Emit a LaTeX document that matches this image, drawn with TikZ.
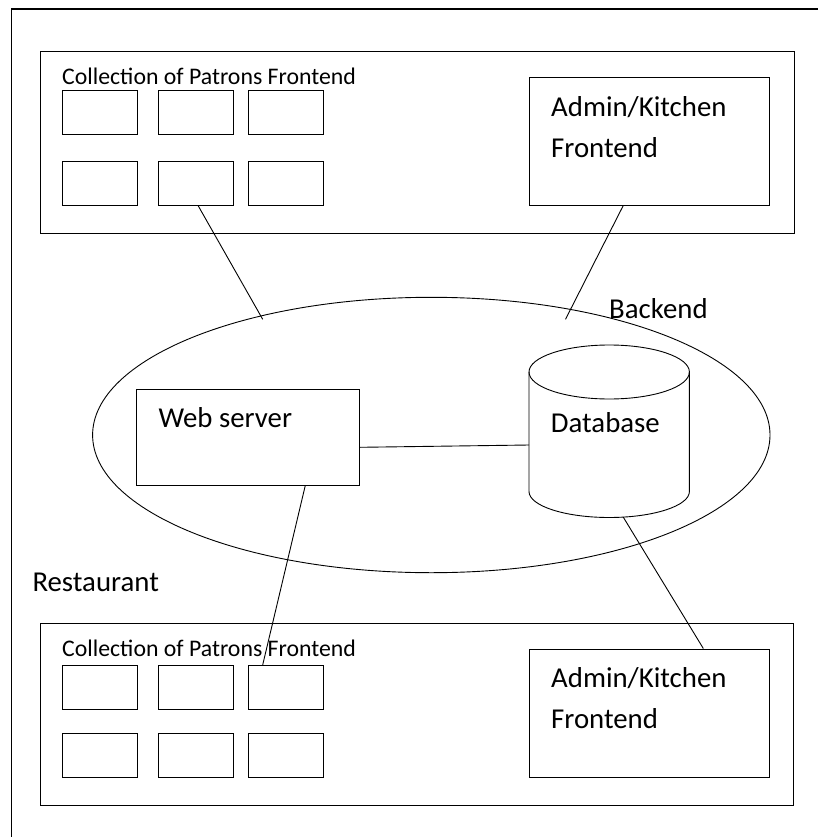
\documentclass[tikz,border=0pt]{standalone}
\usepackage{fontspec}
\setmainfont{Carlito}
\usetikzlibrary{shapes.geometric,calc}
\begin{document}
\begin{tikzpicture}[x=1pt,y=-1pt,
  bx/.style={draw, line width=0.9pt, inner sep=0pt, rectangle},
  pbox/.style={bx, minimum width=75pt, minimum height=44pt},
  ln/.style={line width=0.9pt},
  small/.style={font=\fontsize{23.8}{28}\selectfont, inner sep=0pt, anchor=base west},
  big/.style={font=\fontsize{28.8}{40.5}\selectfont, inner sep=0pt, anchor=base west, align=left},
]
\useasboundingbox (0,0) rectangle (817,837);
\draw[line width=1.6pt] (11.5,850) -- (11.5,9) -- (830,9);

% top frontend section
\node[bx, minimum width=753.3pt, minimum height=182pt] (topbox) at (417.35,142) {};
\node[pbox] (pt11) at (99.8,112.85) {};
\node[pbox] (pt12) at (195.8,112.85) {};
\node[pbox] (pt13) at (285.8,112.85) {};
\node[pbox] (pt21) at (99.8,183) {};
\node[pbox] (pt22) at (195.8,183) {};
\node[pbox] (pt23) at (285.8,183) {};
\node[bx, minimum width=240pt, minimum height=127.7pt] (admT) at (649,141.15) {};
\node[small] (t1) at (62,85) {Collection of Patrons Frontend};
\node[big] (a1) at (551,157.4) {Admin/Kitchen\\Frontend};

% bottom frontend section
\node[bx, minimum width=752.6pt, minimum height=182.2pt] (botbox) at (417,714.4) {};
\node[pbox] (pb11) at (99.8,687.3) {};
\node[pbox] (pb12) at (195.8,687.3) {};
\node[pbox] (pb13) at (285.8,687.3) {};
\node[pbox] (pb21) at (99.8,755.15) {};
\node[pbox] (pb22) at (195.8,755.15) {};
\node[pbox] (pb23) at (285.8,755.15) {};
\node[bx, minimum width=240.3pt, minimum height=128.3pt] (admB) at (649.15,713.15) {};
\node[small] (t2) at (62,656.7) {Collection of Patrons Frontend};
\node[big] (a2) at (551,728.3) {Admin/Kitchen\\Frontend};

% backend
\node[draw, ellipse, ln, inner sep=0pt, minimum width=677.4pt, minimum height=275.4pt] (be) at (431.3,435) {};
\node[bx, minimum width=222.6pt, minimum height=96pt] (ws) at (248,437) {};
\node[big] (wst) at (158.3,427.3) {Web server};
\draw[ln] (529,372) -- (529,491.5) arc[start angle=180, end angle=360, x radius=80.2pt, y radius=26pt] -- (689.4,372);
\draw[ln] (609.2,372) ellipse [x radius=80.2pt, y radius=27pt];
\node[big] (dbt) at (550.7,432.3) {Database};
\node[big] (bet) at (609,318.3) {Backend};
\node[big] (rt) at (32.3,591) {Restaurant};

% connectors
\coordinate (dbW) at (529,445);
\coordinate (dbS) at (623.3,517.2);
\coordinate (e1) at (262.7,319.3);
\coordinate (e2) at (565.5,319.3);
\draw[ln] ($(pt22.south)+(2.2,0)$) -- (e1);
\draw[ln] ($(admT.south)+(-25.7,0)$) -- (e2);
\draw[ln] ($(ws.east)+(0,10.3)$) -- (dbW);
\draw[ln] ($(ws.south)+(57.3,0)$) -- ($(pb13.north)+(-23.1,0)$);
\draw[ln] (dbS) -- ($(admB.north)+(54.2,0)$);
\end{tikzpicture}
\end{document}
